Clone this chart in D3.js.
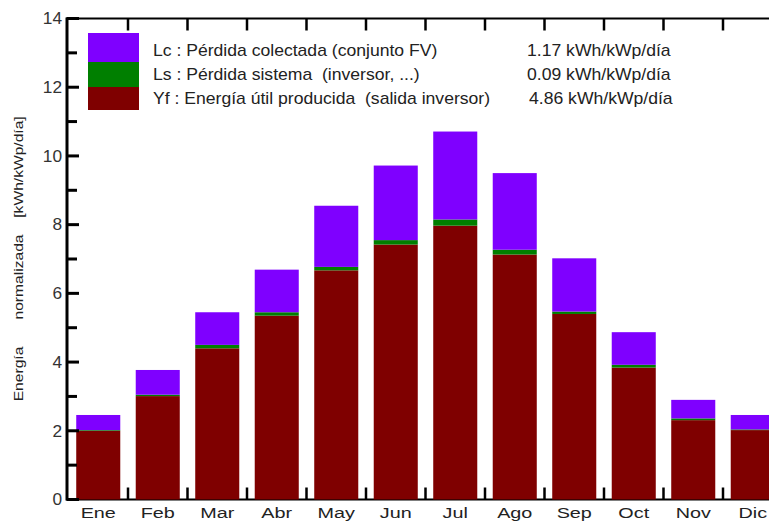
<!DOCTYPE html>
<html>
<head>
<meta charset="utf-8">
<script src="https://cdn.jsdelivr.net/npm/d3@7"></script>
<style>
  html, body { margin: 0; padding: 0; background: #fff; overflow: hidden; }
  svg { display: block; font-family: Arial, "Liberation Sans", sans-serif; }
</style>
</head>
<body>
<svg id="chart" width="769" height="522"></svg>
<script>
// Monthly normalised energy (kWh/kWp/día)
const months = ["Ene", "Feb", "Mar", "Abr", "May", "Jun", "Jul", "Ago", "Sep", "Oct", "Nov", "Dic"];
const yf = [2.00, 3.01, 4.40, 5.35, 6.67, 7.42, 7.97, 7.13, 5.40, 3.84, 2.31, 2.02]; // energía útil
const ls = [0.02, 0.04, 0.10, 0.10, 0.10, 0.13, 0.18, 0.14, 0.07, 0.08, 0.05, 0.02]; // pérdida sistema
const lc = [0.44, 0.72, 0.95, 1.24, 1.78, 2.17, 2.56, 2.23, 1.55, 0.95, 0.54, 0.42]; // pérdida colectada
const yTicks = [0, 2, 4, 6, 8, 10, 12, 14];
const yMinorTicks = [1, 3, 5, 7, 9, 11, 13];
const yTitleWords = ["Energía", "normalizada", "[kWh/kWp/día]"];

const legendItems = [
  { key: "lc", label: "Lc : Pérdida colectada (conjunto FV)", value: "1.17 kWh/kWp/día" },
  { key: "ls", label: "Ls : Pérdida sistema  (inversor, ...)", value: "0.09 kWh/kWp/día" },
  { key: "yf", label: "Yf : Energía útil producida  (salida inversor)", value: "4.86 kWh/kWp/día" }
];
const colors = { lc: "#7f00ff", ls: "#007f00", yf: "#7f0000" };

const rows = months.map((m, i) => ({ month: m, yf: yf[i], ls: ls[i], lc: lc[i] }));
const series = d3.stack().keys(["yf", "ls", "lc"])(rows);

const svg = d3.select("#chart");
const plotLeft = 68.5, bandW = 59.5, plotTop = 18.5, plotBottom = 499.5;

const x = d3.scaleBand().domain(months).range([plotLeft, plotLeft + bandW * months.length]).padding(0);
const y = d3.scaleLinear().domain([0, 14]).range([plotBottom, plotTop]);
const barFrac = 0.74;

// frame: top and bottom lines with ticks at month boundaries
const boundaries = months.slice(1).map(m => x(m));

const frame = svg.append("g");
frame.append("line").attr("x1", 66).attr("x2", 800).attr("y1", y(14)).attr("y2", y(14))
  .attr("stroke", "#000").attr("stroke-width", 2);
frame.append("line").attr("x1", 66).attr("x2", 800).attr("y1", y(0)).attr("y2", y(0))
  .attr("stroke", "#000").attr("stroke-width", 2);
frame.selectAll(".ttick").data(boundaries).join("line")
  .attr("x1", d => d).attr("x2", d => d).attr("y1", y(14)).attr("y2", y(14) + 12)
  .attr("stroke", "#000").attr("stroke-width", 2.5);
frame.selectAll(".btick").data(boundaries).join("line")
  .attr("x1", d => d).attr("x2", d => d).attr("y1", y(0)).attr("y2", y(0) - 12)
  .attr("stroke", "#000").attr("stroke-width", 2.5);

// right frame edge
const rightX = plotLeft + bandW * months.length;
frame.append("line").attr("x1", rightX).attr("x2", rightX).attr("y1", y(14)).attr("y2", y(0))
  .attr("stroke", "#000").attr("stroke-width", 2);
frame.selectAll(".rtick").data(yTicks.concat(yMinorTicks)).join("line")
  .attr("x1", rightX).attr("x2", rightX - 13).attr("y1", d => y(d)).attr("y2", d => y(d))
  .attr("stroke", "#bbb").attr("stroke-width", 2);

// stacked bars
svg.append("g").selectAll("g").data(series).join("g")
  .attr("fill", d => colors[d.key])
  .selectAll("rect").data(d => d).join("rect")
  .attr("x", d => x(d.data.month) + x.bandwidth() * (1 - barFrac) / 2)
  .attr("width", x.bandwidth() * barFrac)
  .attr("y", d => y(d[1]))
  .attr("height", d => y(d[0]) - y(d[1]));

// left axis
const yAxis = svg.append("g").attr("transform", `translate(67,0)`);
yAxis.append("line").attr("x1", 0).attr("x2", 0).attr("y1", y(14) - 1).attr("y2", y(0) + 1)
  .attr("stroke", "#000").attr("stroke-width", 3);
yAxis.selectAll(".maj").data(yTicks).join("line")
  .attr("x1", 0).attr("x2", 12).attr("y1", d => y(d)).attr("y2", d => y(d))
  .attr("stroke", "#000").attr("stroke-width", 3);
yAxis.selectAll(".min").data(yMinorTicks).join("line")
  .attr("x1", 0).attr("x2", 10).attr("y1", d => y(d)).attr("y2", d => y(d))
  .attr("stroke", "#000").attr("stroke-width", 3);
yAxis.selectAll("text").data(yTicks).join("text")
  .attr("transform", d => `translate(-5,${y(d)}) scale(1.08,1)`)
  .attr("dy", "0.36em")
  .attr("text-anchor", "end").attr("font-size", 16).attr("fill", "#333")
  .text(d => d);

// month labels, slightly wide type
svg.append("g").selectAll("text").data(months).join("text")
  .attr("transform", d => `translate(${x(d) + x.bandwidth() / 2},518) scale(1.32,1)`)
  .attr("text-anchor", "middle").attr("font-size", 15).attr("fill", "#222")
  .text(d => d);

// y axis title: three words spread along the axis
const titlePos = [374, 277, 167];
svg.append("g").selectAll("text").data(yTitleWords).join("text")
  .attr("transform", (d, i) => `translate(23,${titlePos[i]}) rotate(-90) scale(1.25,1)`)
  .attr("text-anchor", "middle").attr("font-size", 12.5).attr("fill", "#222")
  .text(d => d);

// legend
const legend = svg.append("g");
const swatch = [{ key: "lc", y0: 33, y1: 62 }, { key: "ls", y0: 62, y1: 87 }, { key: "yf", y0: 87, y1: 110 }];
legend.selectAll("rect").data(swatch).join("rect")
  .attr("x", 88).attr("width", 51)
  .attr("y", d => d.y0).attr("height", d => d.y1 - d.y0)
  .attr("fill", d => colors[d.key]);
legend.selectAll(".lab").data(legendItems).join("text")
  .attr("class", "lab")
  .attr("transform", (d, i) => `translate(153,${56 + i * 24}) scale(1.1,1)`)
  .attr("font-size", 16).attr("fill", "#222")
  .attr("xml:space", "preserve")
  .text(d => d.label);
legend.selectAll(".val").data(legendItems).join("text")
  .attr("class", "val")
  .attr("transform", (d, i) => `translate(${527 + (i === 2 ? 2 : 0)},${56 + i * 24}) scale(1.1,1)`)
  .attr("font-size", 16).attr("fill", "#222")
  .text(d => d.value);
</script>
</body>
</html>
